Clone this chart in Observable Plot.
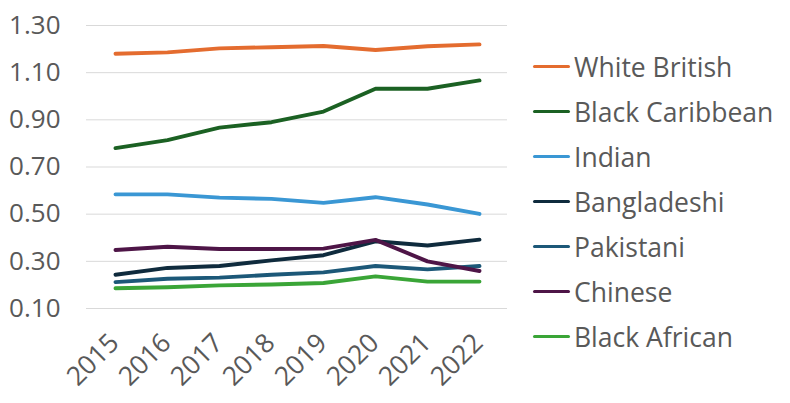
<!DOCTYPE html>
<html>
<head>
<meta charset="utf-8">
<script src="https://cdn.jsdelivr.net/npm/d3@7"></script>
<script src="https://cdn.jsdelivr.net/npm/@observablehq/plot@0.6"></script>
<style>
  body { margin: 0; background: #fff; font-family: "Open Sans", sans-serif; }
  #wrap { position: relative; width: 790px; height: 403px; overflow: hidden; }
  #legend { position: absolute; left: 533px; top: 0; }
  .item { position: absolute; left: 0; white-space: nowrap; display: flex; align-items: center; font-size: 26.5px; color: #595959; }
  .swatch { width: 37px; height: 3.5px; border-radius: 2px; margin-right: 4px; }
</style>
</head>
<body>
<div id="wrap"><div id="chart"></div><div id="legend"></div></div>
<script>
const years = ["2015","2016","2017","2018","2019","2020","2021","2022"];
const seriesNames = ["White British","Black Caribbean","Indian","Bangladeshi","Pakistani","Chinese","Black African"];
const seriesColors = ["#E46C2F","#1B6123","#3A97D4","#0F2B3D","#1C5878","#4E1547","#3AA537"];
const whiteBritish   = [1.180,1.186,1.203,1.208,1.213,1.196,1.212,1.220];
const blackCaribbean = [0.780,0.814,0.867,0.890,0.935,1.032,1.032,1.067];
const indian         = [0.584,0.584,0.570,0.565,0.548,0.572,0.541,0.501];
const bangladeshi    = [0.243,0.272,0.280,0.304,0.326,0.385,0.367,0.392];
const pakistani      = [0.212,0.226,0.231,0.243,0.253,0.280,0.266,0.280];
const chinese        = [0.348,0.362,0.352,0.352,0.354,0.391,0.300,0.259];
const blackAfrican   = [0.186,0.190,0.198,0.202,0.208,0.236,0.214,0.214];
const yTicks = [0.10,0.30,0.50,0.70,0.90,1.10,1.30];

const allValues = [whiteBritish, blackCaribbean, indian, bangladeshi, pakistani, chinese, blackAfrican];
const data = [];
seriesNames.forEach((name, i) => {
  years.forEach((yr, j) => data.push({series: name, year: yr, value: allValues[i][j]}));
});

const chart = Plot.plot({
  width: 790,
  height: 403,
  marginLeft: 86,
  marginRight: 283,
  marginTop: 25,
  marginBottom: 95,
  style: {fontFamily: "Open Sans, sans-serif", fontSize: "26px", color: "#595959", background: "#fff", overflow: "visible"},
  x: {type: "point", domain: years, padding: 0.5, label: null, axis: null},
  y: {domain: [0.1, 1.3], label: null, axis: null},
  color: {domain: seriesNames, range: seriesColors},
  marks: [
    Plot.ruleY(yTicks, {y: d => d, stroke: "#d9d9d9", strokeWidth: 1}),
    Plot.text(yTicks, {y: d => d, text: d => d3.format(".2f")(d), frameAnchor: "left", textAnchor: "end", dx: -26, fontSize: 26, fill: "#595959"}),
    Plot.text(years, {x: d => d, text: d => d, frameAnchor: "bottom", textAnchor: "end", rotate: -45, dx: -1, dy: 30, lineAnchor: "middle", fontSize: 26.5, fill: "#595959"}),
    Plot.line(data, {x: "year", y: "value", z: "series", stroke: "series", strokeWidth: 3.9, strokeLinecap: "round", strokeLinejoin: "round"})
  ]
});
document.getElementById("chart").appendChild(chart);

const legend = document.getElementById("legend");
seriesNames.forEach((name, i) => {
  const item = document.createElement("div");
  item.className = "item";
  item.style.top = (66.7 + 45 * i - 17) + "px";
  item.style.height = "34px";
  const sw = document.createElement("span");
  sw.className = "swatch";
  sw.style.background = seriesColors[i];
  const tx = document.createElement("span");
  tx.textContent = name;
  item.appendChild(sw);
  item.appendChild(tx);
  legend.appendChild(item);
});
</script>
</body>
</html>
